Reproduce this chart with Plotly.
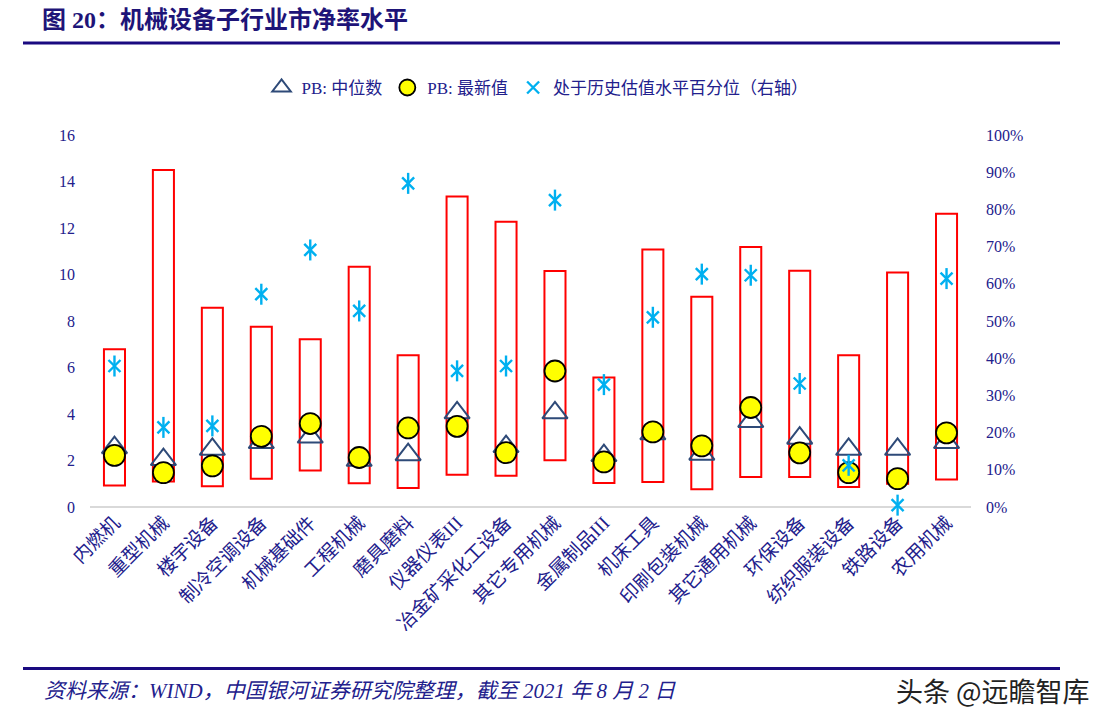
import plotly.graph_objects as go

categories = ["内燃机", "重型机械", "楼宇设备", "制冷空调设备", "机械基础件", "工程机械",
              "磨具磨料", "仪器仪表III", "冶金矿采化工设备", "其它专用机械", "金属制品III",
              "机床工具", "印刷包装机械", "其它通用机械", "环保设备", "纺织服装设备",
              "铁路设备", "农用机械"]
pb_max = [6.78, 14.49, 8.57, 7.75, 7.22, 10.33, 6.53, 13.35, 12.27, 10.15, 5.57,
          11.08, 9.04, 11.18, 10.16, 6.53, 10.09, 12.61]
pb_min = [0.92, 1.10, 0.89, 1.21, 1.57, 1.02, 0.82, 1.39, 1.34, 2.01, 1.03,
          1.08, 0.76, 1.29, 1.29, 0.86, 1.00, 1.18]
pb_median = [2.55, 2.04, 2.48, 2.77, 3.01, 2.01, 2.25, 4.05, 2.60, 4.05, 2.21,
             3.15, 2.27, 3.68, 2.96, 2.48, 2.48, 2.77]
pb_latest = [2.22, 1.48, 1.77, 3.04, 3.59, 2.13, 3.40, 3.47, 2.34, 5.85, 1.94,
             3.23, 2.63, 4.28, 2.33, 1.48, 1.22, 3.19]
pct_rank = [0.379, 0.214, 0.218, 0.572, 0.691, 0.527, 0.870, 0.366, 0.379, 0.825, 0.329,
            0.510, 0.626, 0.623, 0.332, 0.112, 0.005, 0.614]

navy = "#22208C"
cyan = "#00B0F0"
fontfam = "Liberation Serif, Noto Sans CJK SC"

fig = go.Figure()
fig.add_trace(go.Bar(
    x=categories, y=[h - l for h, l in zip(pb_max, pb_min)], base=pb_min,
    width=0.43, marker=dict(color="rgba(0,0,0,0)", line=dict(color="#FF0000", width=2)),
    showlegend=False, hoverinfo="skip"))
fig.add_trace(go.Scatter(
    x=categories, y=pb_median, mode="markers", name="PB: 中位数", cliponaxis=False,
    marker=dict(symbol="triangle-up-open", size=22, color="#2E4A78", line=dict(width=2, color="#2E4A78"))))
fig.add_trace(go.Scatter(
    x=categories, y=pb_latest, mode="markers", name="PB: 最新值", cliponaxis=False,
    marker=dict(symbol="circle", size=21, color="#FFFF00", line=dict(width=1.8, color="#000000"))))
fig.add_trace(go.Scatter(
    x=categories, y=pct_rank, mode="markers", name="处于历史估值水平百分位（右轴）", yaxis="y2",
    legendgroup="pct", cliponaxis=False,
    marker=dict(symbol="x-thin-open", size=12, color=cyan, line=dict(width=2.4, color=cyan))))
fig.add_trace(go.Scatter(
    x=categories, y=pct_rank, mode="markers", name="处于历史估值水平百分位（右轴）", yaxis="y2",
    legendgroup="pct", showlegend=False, cliponaxis=False,
    marker=dict(symbol="line-ns-open", size=15, color=cyan, line=dict(width=2.4, color=cyan))))

W, H = 1109, 728
L, R = 90, 971
T, B = 135, 506.7

def px(x):
    return (x - L) / (R - L)

def py(y):
    return (B - y) / (B - T)

fig.update_layout(
    width=W, height=H,
    margin=dict(l=L, r=W - R, t=T, b=H - B, autoexpand=False),
    plot_bgcolor="white", paper_bgcolor="white",
    font=dict(family=fontfam, color=navy, size=15),
    bargap=0.57,
    xaxis=dict(type="category", range=[-0.5, len(categories) - 0.5], tickangle=-45,
               showgrid=False, showline=False, zeroline=False,
               ticks="", tickfont=dict(size=19, color=navy, family=fontfam)),
    yaxis=dict(range=[0, 16], dtick=2, showgrid=False, zeroline=True, zerolinecolor="#D9D9D9",
               zerolinewidth=2, showline=False, ticks="", tickfont=dict(size=16, color=navy),
               ticklabelstandoff=14),
    yaxis2=dict(range=[0, 1], dtick=0.1, tickformat=".0%", overlaying="y", side="right",
                showgrid=False, zeroline=False, showline=False, ticks="",
                tickfont=dict(size=16, color=navy), ticklabelstandoff=14),
    legend=dict(orientation="h", x=0.508, xanchor="center", y=py(88), yanchor="middle",
                font=dict(size=17, color=navy), itemwidth=30, bgcolor="rgba(0,0,0,0)"),
    showlegend=True,
)

fig.add_annotation(text="<b>图 20：机械设备子行业市净率水平</b>", xref="paper", yref="paper",
                   x=px(40), y=py(20), xanchor="left", yanchor="middle", showarrow=False,
                   font=dict(size=24, color="#1E1478", family=fontfam))
fig.add_shape(type="line", xref="paper", yref="paper", x0=px(23), x1=px(1060),
              y0=py(43), y1=py(43), line=dict(color="#1A0A80", width=3))
fig.add_shape(type="line", xref="paper", yref="paper", x0=px(23), x1=px(1060),
              y0=py(668), y1=py(668), line=dict(color="#1A0A80", width=3))
fig.add_annotation(text="<i>资料来源：WIND，中国银河证券研究院整理，截至 2021 年 8 月 2 日</i>",
                   xref="paper", yref="paper", x=px(42), y=py(691), xanchor="left", yanchor="middle",
                   showarrow=False, font=dict(size=21, color=navy, family=fontfam))
fig.add_annotation(text="头条 @远瞻智库", xref="paper", yref="paper", x=px(1092), y=py(690),
                   xanchor="right", yanchor="middle", showarrow=False,
                   font=dict(size=27, color="#222222", family="Noto Sans CJK SC"))

fig.write_html("out.html")
